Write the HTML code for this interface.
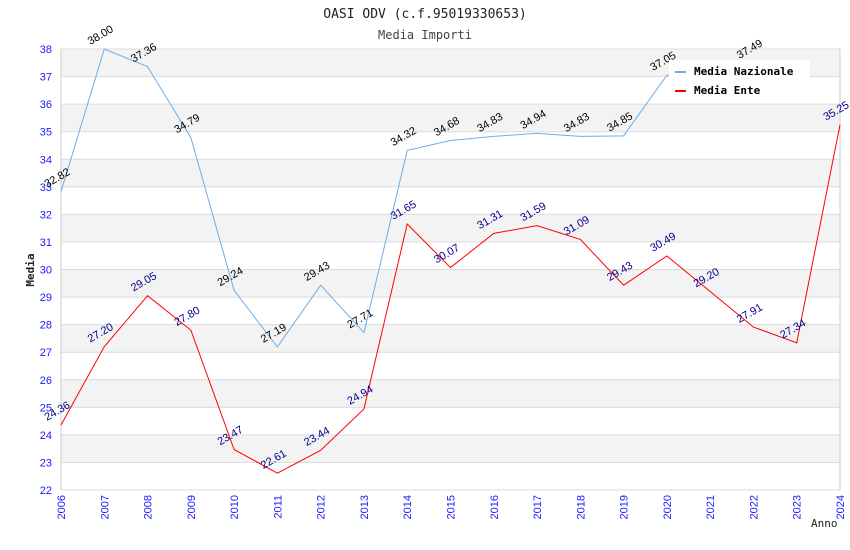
<!DOCTYPE html>
<html><head><meta charset="utf-8"><style>
body{margin:0;background:#fff}
svg{display:block}
</style></head><body>
<svg id="chart" width="850" height="550" xmlns="http://www.w3.org/2000/svg">
<rect width="850" height="550" fill="#fff"/>
<text x="425" y="18" text-anchor="middle" font-family="DejaVu Sans Mono, Liberation Mono, monospace" font-size="13" fill="#222">OASI ODV (c.f.95019330653)</text>
<text x="425" y="39" text-anchor="middle" font-family="DejaVu Sans Mono, Liberation Mono, monospace" font-size="12" fill="#444">Media Importi</text>
<g id="bands"></g><g id="grid"></g><g id="axes"></g><g id="series"></g><g id="labels"></g>
<text x="34" y="270" transform="rotate(-90 34 270)" text-anchor="middle" font-family="DejaVu Sans Mono, monospace" font-weight="bold" font-size="11" fill="#222">Media</text>
<text x="811" y="527" font-family="DejaVu Sans Mono, monospace" font-size="11" fill="#222">Anno</text>
<g>
<rect x="669" y="60" width="141" height="42" fill="#fff"/>
<line x1="675" y1="72" x2="686" y2="72" stroke="#6aaeea" stroke-width="2"/>
<text x="694" y="75" font-family="DejaVu Sans Mono, monospace" font-weight="bold" font-size="11" fill="#000">Media Nazionale</text>
<line x1="675" y1="91" x2="686" y2="91" stroke="#ff0000" stroke-width="2"/>
<text x="694" y="94" font-family="DejaVu Sans Mono, monospace" font-weight="bold" font-size="11" fill="#000">Media Ente</text>
</g>
</svg>
<script>
const years=[2006,2007,2008,2009,2010,2011,2012,2013,2014,2015,2016,2017,2018,2019,2020,2021,2022,2023,2024];
const nazionale=[32.82,38.00,37.36,34.79,29.24,27.19,29.43,27.71,34.32,34.68,34.83,34.94,34.83,34.85,37.05,null,37.49,null,null];
const ente=[24.36,27.20,29.05,27.80,23.47,22.61,23.44,24.94,31.65,30.07,31.31,31.59,31.09,29.43,30.49,29.20,27.91,27.34,35.25];
const yTicks=[22,23,24,25,26,27,28,29,30,31,32,33,34,35,36,37,38];
const NS='http://www.w3.org/2000/svg';
const X0=61,X1=840,Y0=490,Y1=49,YMIN=22,YMAX=38;
const xs=i=>X0+(X1-X0)*i/(years.length-1);
const ys=v=>Y0-(v-YMIN)/(YMAX-YMIN)*(Y0-Y1);
function mk(tag,attrs,parent){const e=document.createElementNS(NS,tag);for(const k in attrs)e.setAttribute(k,attrs[k]);document.getElementById(parent).appendChild(e);return e;}
for(let t=0;t<yTicks.length-1;t++){
 if((yTicks[t]%2)===1){const r=mk('rect',{x:X0,y:ys(yTicks[t+1]),width:X1-X0,height:ys(yTicks[t])-ys(yTicks[t+1]),fill:'#f3f3f3'},'bands');
 
 }
}
yTicks.forEach(v=>{
 const l=mk('line',{x1:X0,x2:X1,y1:ys(v),y2:ys(v),stroke:'#dcdcdc','stroke-width':1},'grid');
 
 
 const t=mk('text',{x:X0-9,y:ys(v)+4,'text-anchor':'end','font-family':'Liberation Sans, sans-serif','font-size':11,fill:'#1a1aff'},'axes');
 t.textContent=v;
 
 
});
const ax=mk('line',{x1:X0,x2:X0,y1:Y1,y2:Y0,stroke:'#ccc'},'axes');


const ar=mk('line',{x1:X1,x2:X1,y1:Y1,y2:Y0,stroke:'#ccc'},'axes');


years.forEach((y,i)=>{
 const x=xs(i);
 const t=mk('text',{x:x+4,y:Y0+5,transform:`rotate(-90 ${x+4} ${Y0+5})`,'text-anchor':'end','font-family':'Liberation Sans, sans-serif','font-size':11,fill:'#1a1aff'},'axes');
 t.textContent=y;
 
 
});
function series(data,color,lblColor,name){
 let d='';let pen=false;
 data.forEach((v,i)=>{ if(v===null){return;} d+=(pen?'L':'M')+xs(i)+' '+ys(v)+' ';pen=true;});
 const p=mk('path',{d:d,fill:'none',stroke:color,'stroke-width':1},'series');
 
 
 data.forEach((v,i)=>{ if(v===null)return;
  const x=xs(i)-14,y=ys(v)-4;
  const t=mk('text',{x:x,y:y,transform:`rotate(-30 ${x} ${y})`,'font-family':'Liberation Sans, sans-serif','font-size':11,fill:lblColor},'labels');
  t.textContent=v.toFixed(2);
  
  
 });
}
series(nazionale,'#6aaeea','#000','nazionale');
series(ente,'#ff0000','#00008b','ente');
</script>
</body></html>
